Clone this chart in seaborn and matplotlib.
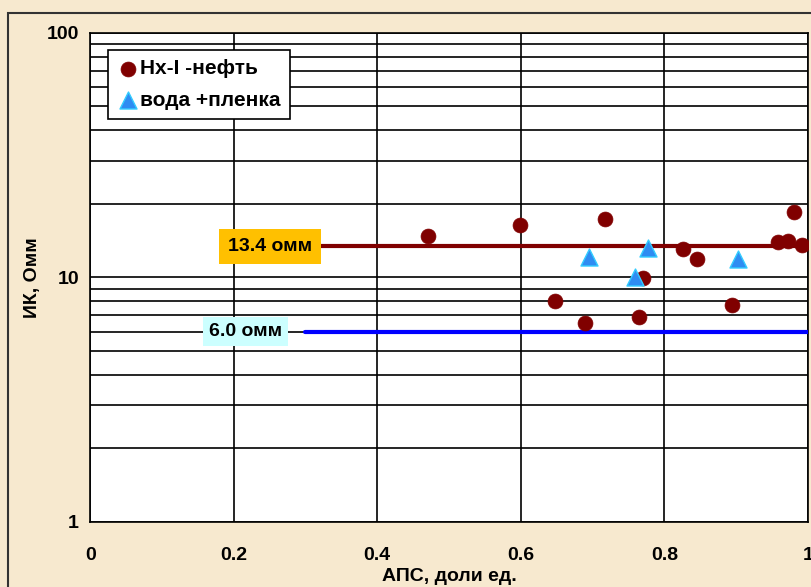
import seaborn as sns
import matplotlib.pyplot as plt
import matplotlib.ticker as mticker
from matplotlib.patches import Rectangle
import pandas as pd
import numpy as np

# Nx-I oil points (APS fraction, IK resistivity)
oil_aps = [0.470, 0.599, 0.717, 0.647, 0.689, 0.770, 0.764, 0.826, 0.845,
           0.894, 0.981, 0.958, 0.972, 0.992]
oil_ik = [14.8, 16.4, 17.3, 8.0, 6.5, 9.95, 6.9, 13.1, 11.9,
          7.7, 18.5, 14.0, 14.1, 13.6]

# water + film points
water_aps = [0.695, 0.777, 0.759, 0.902]
water_ik = [12.1, 13.2, 10.0, 11.9]

# cutoff lines
cut_x = [0.30, 1.0]
oil_cut = 13.4
water_cut = 6.0

x_ticks = [0, 0.2, 0.4, 0.6, 0.8, 1]
y_ticks = [1, 10, 100]

oil_df = pd.DataFrame({"АПС": oil_aps, "ИК": oil_ik})
water_df = pd.DataFrame({"АПС": water_aps, "ИК": water_ik})

sns.set_style("white")
plt.rcParams['font.family'] = ['Liberation Sans Narrow', 'Liberation Sans', 'DejaVu Sans']
plt.rcParams['font.weight'] = 'bold'
plt.rcParams['text.color'] = 'black'
plt.rcParams['axes.labelcolor'] = 'black'
plt.rcParams['xtick.color'] = 'black'
plt.rcParams['ytick.color'] = 'black'

fig = plt.figure(figsize=(8.12, 5.87), dpi=100)
fig.patch.set_facecolor('#F7E9CF')
ax = fig.add_axes([0.111, 0.111, 0.884, 0.833])
ax.set_facecolor('white')

# outer chart frame
fig.patches.append(Rectangle((8 / 812, -0.05), 1.0, (587 - 13) / 587 + 0.05,
                             transform=fig.transFigure, fill=False,
                             edgecolor='#333333', linewidth=1.5, zorder=0))

ax.set_yscale('log')
ax.set_xlim(0, 1)
ax.set_ylim(1, 100)

ax.set_xticks(x_ticks)
ax.set_xticklabels(['0', '0.2', '0.4', '0.6', '0.8', '1'])
ax.set_yticks(y_ticks)
ax.set_yticklabels(['1', '10', '100'])
ax.yaxis.set_minor_locator(mticker.LogLocator(base=10, subs=np.arange(2, 10)))
ax.yaxis.set_minor_formatter(mticker.NullFormatter())

ax.grid(True, which='major', axis='both', color='black', linewidth=1.2)
ax.grid(True, which='minor', axis='y', color='black', linewidth=1.2)
ax.tick_params(axis='x', which='major', direction='out', length=5,
               width=1, labelsize=14, pad=13)
ax.tick_params(axis='y', which='major', direction='out', length=5,
               width=1, labelsize=14, pad=3)
ax.tick_params(axis='y', which='minor', length=0)
for s in ax.spines.values():
    s.set_color('black')
    s.set_linewidth(1.2)

# cutoff lines
ax.plot(cut_x, [oil_cut, oil_cut], color='#800000', linewidth=3, zorder=3)
ax.plot(cut_x, [water_cut, water_cut], color='#0000FF', linewidth=3, zorder=3)

sns.scatterplot(data=oil_df, x="АПС", y="ИК", ax=ax, marker='o', s=115,
                color='#800000', edgecolor='#800000', linewidth=0.5,
                label='Hx-I -нефть', zorder=4)
sns.scatterplot(data=water_df, x="АПС", y="ИК", ax=ax, marker='^', s=150,
                color='#2F8CF2', edgecolor='#33CCFF', linewidth=1,
                label='вода +пленка', zorder=5)

ax.text(0.192, oil_cut, '13.4 омм', fontsize=14, va='center', ha='left',
        fontweight='bold',
        bbox=dict(boxstyle='square,pad=0.45', facecolor='#FFC000',
                  edgecolor='none'), zorder=6)
ax.text(0.165, water_cut, '6.0 омм', fontsize=14, va='center', ha='left',
        fontweight='bold',
        bbox=dict(boxstyle='square,pad=0.3', facecolor='#CCFFFF',
                  edgecolor='none'), zorder=6)

ax.set_xlabel('АПС, доли ед.', fontsize=14, fontweight='bold', labelpad=3)
ax.set_ylabel('ИК, Омм', fontsize=14, fontweight='bold', labelpad=4)

leg = ax.legend(loc='upper left', bbox_to_anchor=(0.025, 0.965), fontsize=15,
                frameon=True, fancybox=False, framealpha=1, edgecolor='black',
                handletextpad=0.1, borderpad=0.45, labelspacing=0.6,
                handlelength=1.0, borderaxespad=0)
leg.get_frame().set_linewidth(1.2)
leg.set_zorder(10)

fig.savefig('out.png', dpi=100, facecolor=fig.get_facecolor())
plt.close(fig)
